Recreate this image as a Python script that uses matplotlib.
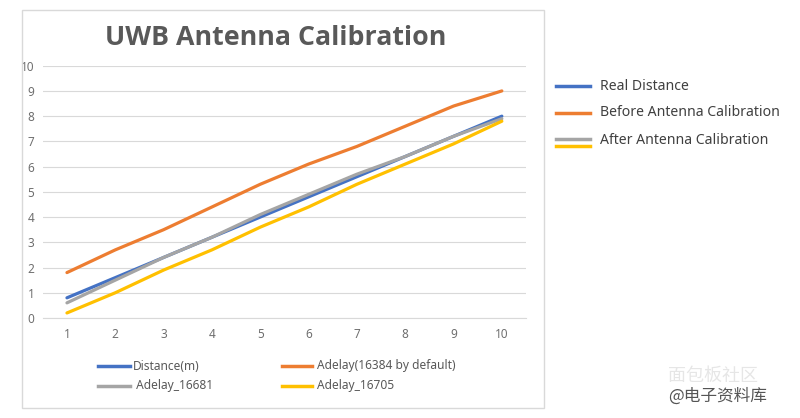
import matplotlib.pyplot as plt
from matplotlib.patches import Rectangle
from matplotlib.lines import Line2D

# data
x = [1, 2, 3, 4, 5, 6, 7, 8, 9, 10]
distance = [0.8, 1.6, 2.4, 3.2, 4.0, 4.8, 5.6, 6.4, 7.2, 8.0]
adelay_default = [1.8, 2.7, 3.5, 4.4, 5.3, 6.1, 6.8, 7.6, 8.4, 9.0]
adelay_16681 = [0.6, 1.5, 2.4, 3.2, 4.1, 4.9, 5.7, 6.4, 7.2, 7.9]
adelay_16705 = [0.2, 1.0, 1.9, 2.7, 3.6, 4.4, 5.3, 6.1, 6.9, 7.8]

series_names = ['Distance(m)', 'Adelay(16384 by default)', ' Adelay_16681', 'Adelay_16705']
colors = ['#4472C4', '#ED7D31', '#A5A5A5', '#FFC000']

plt.rcParams['font.family'] = ['Noto Sans', 'DejaVu Sans']

W, H = 800, 418
fig = plt.figure(figsize=(8, 4.18), dpi=100)
fig.patch.set_facecolor('white')

def fx(px):
    return px / W

def fy(py):
    return 1 - py / H

# chart frame
fig.patches.append(Rectangle((fx(22), fy(408)), fx(544 - 22), (408 - 10) / H,
                             transform=fig.transFigure, fill=False, edgecolor='#d9d9d9', lw=1))

ax = fig.add_axes([fx(42.8), 100 / H, fx(526 - 42.8), (318 - 65.7) / H])
for vals, c, name in zip([distance, adelay_default, adelay_16681, adelay_16705], colors, series_names):
    ax.plot(x, vals, color=c, lw=2.3, label=name, solid_capstyle='round')

ax.set_xlim(0.5, 10.5)
ax.set_ylim(0, 10)
ax.set_xticks(x)
ax.set_yticks(range(0, 11))
ax.grid(axis='y', color='#d9d9d9', lw=0.8)
ax.set_axisbelow(True)
for s in ['top', 'right', 'left']:
    ax.spines[s].set_visible(False)
ax.spines['bottom'].set_color('#d9d9d9')
ax.tick_params(length=0, colors='#6f6f6f', labelsize=8.5)
ax.tick_params(axis='x', pad=7)
ax.tick_params(axis='y', pad=6)

fig.text(fx(276), fy(38), 'UWB Antenna Calibration', ha='center', va='center',
         fontsize=19.3, fontweight='bold', color='#595959', family=['Open Sans', 'DejaVu Sans'])

# bottom legend, laid out like the Excel one (row major)
handle_x = [(98, 130), (282, 312), (98, 130), (282, 312)]
text_x = [133, 317, 133, 317]
row_y = [366, 366, 386, 386]
for c, name, (h0, h1), tx, ry in zip(colors, series_names, handle_x, text_x, row_y):
    fig.lines.append(Line2D([fx(h0), fx(h1)], [fy(ry), fy(ry)], transform=fig.transFigure,
                            color=c, lw=2.5))
    fig.text(fx(tx), fy(ry), name, ha='left', va='center', fontsize=8.6, color='#595959')

# right legend
right_labels = ['Real Distance', 'Before Antenna Calibration', 'After Antenna Calibration']
right_y = [86, 113, 141]
for lab, yy, c in zip(right_labels, right_y, colors[:2] + [None]):
    if c is not None:
        fig.lines.append(Line2D([fx(556), fx(590)], [fy(yy), fy(yy)], transform=fig.transFigure,
                                color=c, lw=2.5))
    else:
        fig.lines.append(Line2D([fx(556), fx(590)], [fy(yy - 2)] * 2, transform=fig.transFigure,
                                color=colors[2], lw=2.5))
        fig.lines.append(Line2D([fx(556), fx(590)], [fy(yy + 5)] * 2, transform=fig.transFigure,
                                color=colors[3], lw=2.5))
    fig.text(fx(600), fy(yy), lab, ha='left', va='center', fontsize=10.1, color='#404040')

# watermark
fig.text(fx(668), fy(396), '@电子资料库', ha='left', va='center', fontsize=12,
         color='#555555', family=['Noto Sans CJK SC', 'DejaVu Sans'])
fig.text(fx(668), fy(376), '面包板社区', ha='left', va='center', fontsize=13,
         color='#e6e6e6', family=['Noto Sans CJK SC', 'DejaVu Sans'])

fig.savefig('out.png', dpi=100, facecolor='white')
